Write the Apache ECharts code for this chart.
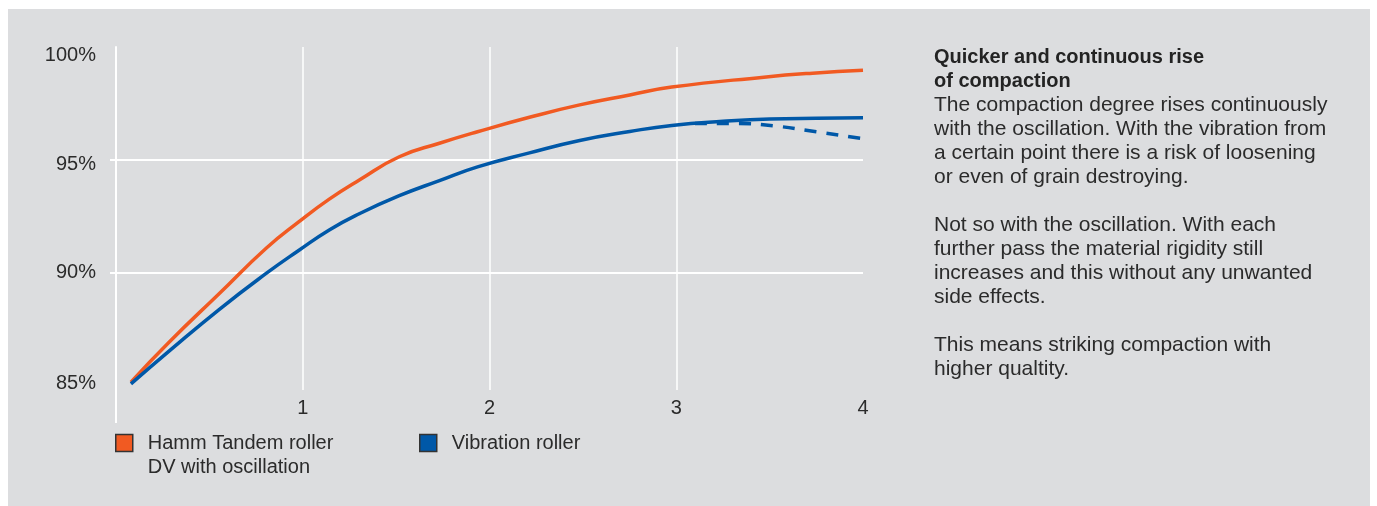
<!DOCTYPE html>
<html>
<head>
<meta charset="utf-8">
<script src="https://cdn.jsdelivr.net/npm/echarts@6/dist/echarts.min.js"></script>
<style>
  html, body { margin: 0; padding: 0; background: #fff; }
  #panel { position: absolute; left: 8px; top: 9px; width: 1362px; height: 497px; background: #dcdddf; }
  #chart { position: absolute; left: 0; top: 0; width: 1377px; height: 506px; }
</style>
</head>
<body>
<div id="panel"></div>
<div id="chart"></div>
<script>
// number of passes (x) and compaction degree in % (y)
const hammPasses = [0.08, 0.284, 0.552, 0.804, 0.98, 1.142, 1.303, 1.517, 1.732, 1.936, 2.214, 2.483, 2.751, 2.976, 3.469, 3.73, 4]
const hammValues = [85.13, 86.9, 89.05, 91.07, 92.25, 93.25, 94.1, 95.13, 95.73, 96.24, 96.88, 97.43, 97.87, 98.22, 98.66, 98.84, 98.97]

const vibPasses = [0.08, 0.284, 0.552, 0.804, 0.98, 1.142, 1.303, 1.517, 1.732, 1.936, 2.214, 2.483, 2.751, 2.976, 3.25, 3.5, 4]
const vibValues = [85.05, 86.5, 88.35, 89.95, 90.98, 91.88, 92.6, 93.4, 94.07, 94.68, 95.3, 95.85, 96.25, 96.52, 96.7, 96.8, 96.86]

// vibration roller: risk of loosening (dashed)
const loosePasses = [3.1, 3.3, 3.52, 3.75, 4]
const looseValues = [96.6, 96.61, 96.5, 96.24, 95.93]

const xTicks = [1, 2, 3, 4]
const yTicks = [85, 90, 95, 100]

const heading = 'Quicker and continuous rise\nof compaction'
const bodyText = [
  'The compaction degree rises continuously',
  'with the oscillation. With the vibration from',
  'a certain point there is a risk of loosening',
  'or even of grain destroying.',
  '',
  'Not so with the oscillation. With each',
  'further pass the material rigidity still',
  'increases and this without any unwanted',
  'side effects.',
  '',
  'This means striking compaction with',
  'higher qualtity.'
]

const orange = '#f15a22'
const blue = '#0058a8'
const font = "'Liberation Sans', Arial, Helvetica, sans-serif"
const textColor = '#2b2b2b'

const zip = (xs, ys) => xs.map((x, i) => [x, ys[i]])

const chart = echarts.init(document.getElementById('chart'))

const labelStyle = { fontFamily: font, fontSize: 20, color: textColor }

const option = {
  animation: false,
  textStyle: { fontFamily: font },
  title: {
    text: heading,
    subtext: bodyText.join('\n'),
    left: 934,
    top: 45,
    padding: 0,
    itemGap: 0,
    textStyle: { fontFamily: font, fontSize: 20, fontWeight: 'bold', lineHeight: 24, color: '#232323' },
    subtextStyle: { fontFamily: font, fontSize: 21, lineHeight: 24, color: textColor }
  },
  grid: { left: 116, right: 514, top: 47, bottom: 121, containLabel: false },
  legend: [
    {
      left: 115, top: 407, padding: 0,
      itemWidth: 17, itemHeight: 17,
      data: [{ name: 'Hamm Tandem roller\nDV with oscillation', icon: 'rect' }],
      // blank first line so the icon sits beside the first text line
      formatter: name => '\n' + name,
      itemStyle: { borderColor: '#333', borderWidth: 1.5 },
      textStyle: { fontFamily: font, fontSize: 20, lineHeight: 24, color: textColor, padding: [0, 0, 0, 10] },
      selectedMode: false
    },
    {
      left: 419, top: 431, padding: 0,
      itemWidth: 17, itemHeight: 17,
      data: [{ name: 'Vibration roller', icon: 'rect' }],
      itemStyle: { borderColor: '#333', borderWidth: 1.5 },
      textStyle: { fontFamily: font, fontSize: 20, lineHeight: 24, color: textColor, padding: [0, 0, 0, 10] },
      selectedMode: false
    }
  ],
  xAxis: {
    type: 'value',
    min: 0, max: 4, interval: 1,
    axisLine: { show: false },
    axisTick: { show: true, customValues: [1, 2, 3], length: 5, lineStyle: { color: '#fff', width: 1.5 } },
    axisLabel: Object.assign({ customValues: xTicks, margin: 13 }, labelStyle),
    splitLine: { show: true, lineStyle: { color: '#fff', width: 1.5 } }
  },
  yAxis: {
    type: 'value',
    min: 85, max: 100, interval: 5,
    axisLine: { show: true, lineStyle: { color: '#fff', width: 2 } },
    axisTick: { show: true, customValues: [90, 95], length: 6, lineStyle: { color: '#fff', width: 2 } },
    axisLabel: Object.assign({
      customValues: yTicks,
      formatter: v => v === 100 ? '{hi|100%}' : v === 95 ? '{mid|95%}' : v === 85 ? '{lo|85%}' : v + '%',
      margin: 20,
      rich: {
        hi: Object.assign({ padding: [16, 0, 0, 0] }, labelStyle),
        mid: Object.assign({ padding: [9, 0, 0, 0] }, labelStyle),
        lo: Object.assign({ padding: [0, 0, 4, 0] }, labelStyle)
      }
    }, labelStyle),
    splitLine: { show: true, lineStyle: { color: '#fff', width: 2 } }
  },
  series: [
    {
      name: 'Hamm Tandem roller\nDV with oscillation',
      type: 'line',
      data: zip(hammPasses, hammValues),
      smooth: 0.5,
      showSymbol: false,
      color: orange,
      lineStyle: { color: orange, width: 3.5 },
      z: 3
    },
    {
      name: 'Vibration roller',
      type: 'line',
      data: zip(vibPasses, vibValues),
      smooth: 0.5,
      showSymbol: false,
      color: blue,
      lineStyle: { color: blue, width: 3.5 },
      z: 3
    },
    {
      name: 'Vibration roller (loosening)',
      type: 'line',
      data: zip(loosePasses, looseValues),
      smooth: 0.5,
      showSymbol: false,
      color: blue,
      lineStyle: { color: blue, width: 3.5, type: [12, 10] },
      z: 2
    }
  ]
}

chart.setOption(option)

// the y axis line runs on below the plot, down past the tick labels
const base = chart.convertToPixel({ gridIndex: 0 }, [0, 85])
chart.setOption({
  graphic: [{
    type: 'line',
    shape: { x1: base[0], y1: base[1], x2: base[0], y2: base[1] + 38 },
    style: { stroke: '#fff', lineWidth: 2 },
    silent: true
  }]
})
</script>
</body>
</html>
